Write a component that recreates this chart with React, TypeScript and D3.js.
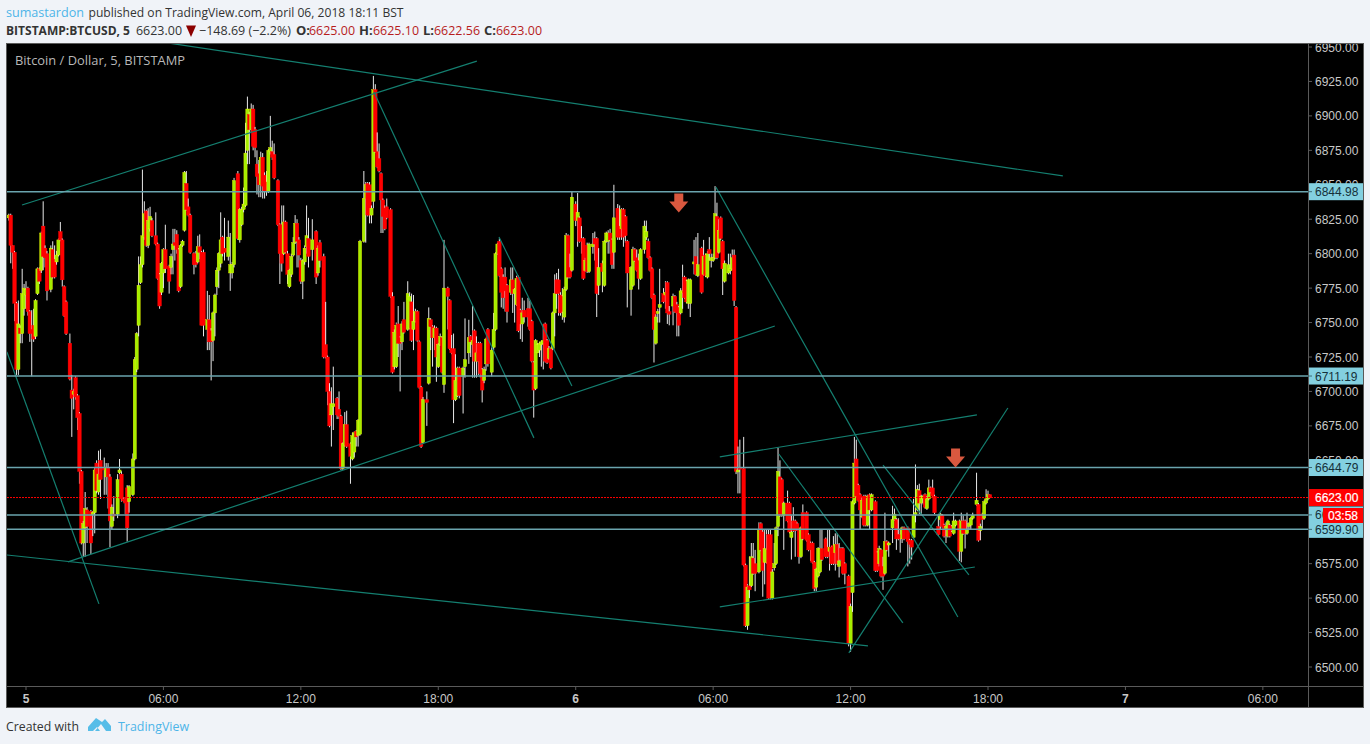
import React from "react";
import * as d3 from "d3";

type Bar = [number, number, number, number, number];

// [bar index from Apr 5 00:00 at 5 minutes, open, high, low, close]
const candlesNight: Bar[] = [
[-9,6826,6829,6824,6828],[-8,6828,6829,6793,6806],[-7,6806,6806,6789,6801],[-6,6801,6802,6751,6764],[-5,6764,6765,6712,6716],[-4,6716,6766,6712,6749],[-3,6746,6748,6735,6742],[-2,6742,6789,6735,6771],[-1,6760,6778,6755,6775],[0,6770,6780,6760,6774],[1,6775,6776,6755,6758],[2,6758,6759,6736,6742],[3,6745,6759,6711,6742],[4,6748,6760,6736,6738],[5,6740,6767,6738,6766],[6,6771,6790,6770,6789],[7,6789,6790,6778,6780],[8,6788,6816,6786,6815],[9,6820,6838,6788,6798],[10,6804,6806,6790,6797],[11,6800,6802,6766,6773],[13,6774,6806,6772,6804],[14,6803,6809,6782,6783],[15,6796,6806,6782,6783],[16,6794,6802,6792,6799],[17,6799,6811,6798,6810],[18,6816,6823,6809,6810],[19,6810,6811,6776,6781],[20,6776,6777,6754,6755],[21,6765,6766,6741,6742],[23,6735,6742,6708,6709],[24,6701,6712,6667,6695],[25,6698,6702,6687,6700],[26,6710,6711,6694,6696],[27,6697,6698,6672,6681],[28,6684,6685,6633,6642],[29,6642,6643,6589,6590],[30,6590,6606,6580,6604],[31,6601,6627,6580,6615],[32,6614,6616,6590,6602],[34,6613,6614,6582,6590],[35,6611,6613,6595,6612],[36,6612,6645,6597,6643],[37,6648,6650,6626,6628],[38,6627,6657,6625,6640],[39,6650,6658,6622,6636],[41,6645,6652,6625,6643],[42,6638,6648,6625,6645],[43,6645,6648,6615,6638],[44,6638,6640,6587,6606],[45,6602,6618,6600,6616],[46,6611,6624,6606,6610],[48,6611,6640,6608,6636],[49,6641,6651,6640,6643],[50,6640,6642,6620,6622],[51,6622,6623,6620,6621],[52,6622,6623,6611,6619],[53,6630,6632,6591,6601],[54,6620,6632,6612,6631],[56,6625,6655,6624,6651],[57,6651,6725,6650,6723],[58,6716,6743,6714,6742],[59,6748,6798,6740,6777],[60,6779,6798,6778,6792],[61,6792,6861,6790,6813],[62,6812,6838,6810,6829],[63,6831,6832,6805,6806],[64,6806,6833,6804,6824],[65,6818,6834,6816,6827],[66,6824,6826,6812,6813],[68,6813,6830,6806,6807],[69,6807,6808,6781,6782],[70,6785,6786,6760,6762],[71,6772,6794,6770,6793],[72,6786,6804,6775,6803],[73,6803,6821,6786,6789],[75,6791,6792,6771,6780],[76,6790,6800,6785,6798],[77,6803,6818,6785,6807],[78,6808,6818,6795,6806],[79,6814,6817,6800,6803],[80,6803,6804,6772,6773],[81,6776,6807,6775,6806],[82,6806,6810,6805,6809],[83,6817,6860,6816,6859],[84,6851,6860,6831,6832],[85,6834,6840,6827,6828],[86,6828,6829,6800,6801],[88,6800,6801,6785,6792],[89,6800,6802,6790,6792],[90,6794,6813,6793,6805],[91,6805,6814,6796,6801],[92,6801,6802,6748,6748],[93,6801,6803,6740,6748],[95,6745,6773,6730,6752],[96,6752,6770,6730,6736],[97,6744,6746,6708,6736],[98,6737,6758,6722,6757],[99,6757,6771,6740,6770],[100,6776,6790,6770,6788],[101,6788,6801,6775,6800],[102,6793,6830,6790,6810],[103,6812,6813,6798,6800],[104,6804,6826,6795,6801],[106,6798,6824,6795,6812],[107,6786,6815,6773,6792],[108,6786,6794,6782,6792],[109,6792,6855,6790,6853],[111,6858,6860,6810,6811],
];

const candlesMorning: Bar[] = [
[112,6810,6833,6808,6832],[113,6821,6834,6820,6832],[114,6832,6848,6830,6836],[115,6835,6895,6834,6873],[116,6875,6914,6865,6905],[117,6901,6903,6865,6890],[118,6890,6909,6888,6905],[119,6905,6908,6875,6878],[120,6890,6892,6870,6877],[121,6865,6875,6843,6856],[122,6858,6868,6841,6850],[123,6850,6874,6841,6870],[124,6870,6873,6840,6849],[125,6857,6859,6840,6845],[126,6852,6860,6842,6845],[127,6845,6876,6844,6875],[128,6874,6900,6872,6877],[129,6874,6882,6868,6870],[130,6872,6880,6854,6855],[132,6853,6854,6820,6821],[133,6821,6822,6778,6800],[134,6821,6835,6787,6793],[135,6800,6835,6799,6823],[136,6823,6824,6800,6801],[137,6800,6802,6778,6785],[138,6776,6789,6775,6788],[139,6785,6800,6783,6798],[140,6799,6812,6798,6808],[141,6808,6828,6807,6822],[142,6822,6825,6790,6809],[143,6810,6812,6790,6799],[144,6795,6797,6778,6780],[145,6780,6796,6767,6795],[146,6794,6806,6792,6804],[147,6805,6835,6800,6813],[148,6811,6826,6790,6798],[150,6803,6825,6795,6810],[152,6816,6817,6778,6783],[153,6786,6806,6784,6804],[154,6808,6810,6790,6795],[156,6798,6800,6724,6725],[157,6734,6765,6724,6725],[158,6725,6726,6690,6700],[159,6700,6706,6674,6675],[160,6683,6703,6660,6691],[161,6689,6718,6672,6691],[163,6695,6696,6680,6683],[164,6687,6700,6680,6682],[165,6682,6683,6643,6644],[166,6644,6663,6643,6662],[167,6661,6685,6660,6676],[168,6676,6686,6659,6660],[170,6662,6663,6633,6653],[171,6651,6670,6650,6668],[172,6656,6671,6652,6670],[173,6671,6672,6660,6667],[174,6668,6680,6660,6679],[175,6669,6810,6668,6809],[177,6809,6860,6808,6840],[178,6840,6852,6808,6850],[179,6851,6852,6827,6828],[180,6850,6852,6822,6828],[181,6828,6835,6822,6833],[182,6838,6929,6833,6919],[183,6919,6923,6873,6874],[184,6874,6888,6862,6863],[185,6869,6880,6859,6860],[186,6858,6859,6815,6839],[187,6839,6840,6815,6827],[188,6833,6835,6817,6818],[189,6834,6840,6825,6826],
];

const candlesAfternoon: Bar[] = [
[191,6832,6833,6768,6769],[192,6769,6772,6713,6714],[193,6718,6745,6716,6743],[194,6718,6750,6717,6748],[195,6749,6762,6725,6735],[196,6739,6740,6700,6735],[197,6736,6751,6730,6749],[198,6752,6765,6742,6743],[200,6745,6780,6744,6771],[201,6746,6772,6745,6769],[202,6765,6771,6736,6737],[203,6745,6770,6730,6751],[204,6751,6760,6750,6758],[205,6758,6759,6736,6737],[206,6736,6737,6702,6703],[207,6703,6704,6659,6660],[208,6663,6696,6662,6694],[210,6694,6700,6675,6692],[211,6706,6761,6705,6753],[212,6752,6753,6730,6747],[213,6747,6748,6718,6739],[214,6739,6748,6730,6746],[215,6746,6747,6707,6725],[216,6718,6735,6717,6734],[217,6734,6742,6733,6740],[218,6739,6740,6713,6714],[219,6705,6810,6699,6775],[221,6775,6776,6745,6769],[222,6766,6767,6730,6731],[223,6731,6741,6727,6728],[224,6731,6742,6677,6694],[225,6694,6727,6693,6708],[226,6697,6718,6696,6717],[227,6717,6718,6695,6697],[229,6711,6718,6684,6717],[230,6718,6753,6710,6723],[232,6728,6752,6720,6739],[233,6740,6741,6725,6736],[234,6734,6762,6710,6737],[235,6744,6745,6710,6722],[236,6722,6740,6710,6728],[237,6735,6736,6712,6722],
[238,6735,6736,6710,6713],[239,6716,6717,6692,6701],[240,6708,6718,6706,6716],[241,6720,6739,6715,6738],[242,6745,6746,6718,6720],[244,6714,6732,6711,6730],[245,6732,6757,6730,6745],[246,6745,6801,6744,6800],[247,6800,6808,6799,6807],[248,6809,6811,6783,6784],[249,6789,6790,6761,6772],[250,6783,6785,6760,6768],[251,6783,6790,6758,6773],[252,6777,6778,6750,6758],[254,6772,6790,6770,6781],[255,6781,6790,6757,6771],[256,6771,6775,6750,6774],[257,6763,6784,6762,6782],[258,6783,6784,6743,6744],[259,6759,6760,6738,6749],[260,6749,6768,6736,6757],[261,6759,6766,6750,6754],[263,6760,6768,6747,6754],[264,6760,6766,6744,6745],[265,6751,6752,6721,6722],[266,6721,6722,6681,6701],[267,6702,6738,6701,6737],[268,6728,6735,6728,6734],[269,6730,6736,6725,6735],[270,6734,6737,6718,6736],[271,6735,6749,6716,6737],[272,6749,6750,6721,6722],[273,6737,6738,6720,6721],[274,6724,6733,6723,6731],[275,6731,6732,6716,6717],[276,6731,6758,6730,6757],[277,6757,6785,6740,6771],[278,6781,6786,6760,6771],[279,6781,6789,6755,6771],[280,6770,6772,6755,6757],[281,6769,6775,6752,6758],[282,6754,6776,6750,6774],[283,6774,6815,6773,6813],[284,6813,6814,6782,6783],[285,6790,6800,6782,6783],[286,6788,6845,6787,6841],
];

const candlesDayTwo: Bar[] = [
[288,6836,6838,6820,6824],[289,6824,6844,6805,6830],[290,6826,6827,6808,6809],[291,6811,6820,6800,6809],[292,6811,6812,6781,6782],[293,6788,6797,6787,6795],[294,6806,6808,6786,6787],[295,6787,6808,6786,6807],[297,6805,6815,6800,6807],[298,6811,6816,6795,6807],[299,6811,6812,6754,6771],[300,6777,6804,6770,6790],[302,6793,6795,6772,6787],[303,6777,6810,6776,6809],[304,6809,6816,6808,6815],[305,6809,6817,6800,6815],[306,6815,6818,6800,6810],[307,6810,6811,6789,6792],[308,6801,6850,6789,6826],[310,6833,6836,6810,6812],[311,6820,6835,6810,6812],[312,6818,6833,6810,6832],[313,6832,6833,6805,6812],[314,6827,6828,6808,6813],[315,6809,6810,6761,6786],[317,6774,6791,6755,6790],[318,6777,6805,6776,6803],[319,6803,6804,6794,6795],[320,6797,6803,6787,6788],[321,6795,6800,6774,6782],[322,6782,6804,6781,6803],[324,6803,6824,6800,6820],[325,6812,6824,6810,6816],[326,6809,6811,6796,6797],[327,6797,6798,6787,6788],[328,6789,6790,6767,6768],[329,6770,6771,6721,6745],[330,6735,6756,6734,6754],[331,6757,6760,6750,6758],[332,6761,6789,6750,6763],[334,6771,6775,6764,6765],[335,6770,6780,6760,6772],[336,6779,6780,6749,6757],[337,6758,6762,6748,6756],[339,6762,6771,6748,6769],[340,6769,6770,6757,6758],[341,6763,6765,6740,6757],[342,6761,6762,6740,6748],[343,6757,6775,6756,6773],[344,6772,6792,6760,6773],[345,6783,6784,6767,6768],[346,6780,6781,6764,6765],[347,6764,6782,6760,6781],[348,6764,6782,6754,6781],[350,6793,6810,6785,6794],[351,6798,6812,6784,6785],[352,6784,6815,6783,6792],[354,6804,6805,6771,6772],[355,6785,6810,6784,6798],[356,6799,6800,6783,6784],[357,6783,6802,6782,6800],[358,6803,6812,6795,6800],[359,6795,6800,6790,6797],[360,6795,6800,6794,6797],[361,6797,6849,6796,6829],[362,6827,6837,6796,6797],[363,6801,6825,6800,6817],[364,6826,6827,6810,6811],[365,6809,6810,6770,6789],[366,6780,6795,6779,6793],[368,6786,6800,6785,6792],[369,6788,6800,6785,6789],[370,6789,6803,6788,6797],[371,6799,6803,6762,6766],[372,6761,6762,6640,6642],
];

const candlesClose: Bar[] = [
[373,6642,6660,6626,6643],[374,6645,6665,6626,6644],[376,6644,6667,6573,6574],[377,6574,6575,6529,6530],[378,6530,6560,6527,6558],[379,6559,6580,6550,6556],[380,6559,6590,6558,6580],[381,6579,6590,6567,6568],[382,6575,6585,6555,6568],[384,6569,6605,6568,6599],[385,6604,6605,6584,6585],[386,6598,6600,6551,6570],[387,6576,6600,6560,6586],[388,6576,6600,6575,6585],[389,6596,6600,6549,6550],[390,6596,6600,6549,6550],[391,6550,6571,6549,6569],[392,6572,6590,6570,6575],[393,6575,6602,6574,6601],[394,6602,6659,6595,6642],[395,6638,6650,6609,6610],[396,6636,6637,6609,6610],[397,6610,6620,6585,6619],[399,6619,6628,6605,6606],[400,6619,6620,6597,6598],[401,6594,6610,6578,6598],[402,6606,6616,6598,6599],[403,6606,6607,6580,6599],[404,6604,6605,6599,6600],[405,6599,6600,6575,6580],[406,6580,6602,6579,6601],[407,6612,6618,6592,6593],[409,6612,6613,6591,6592],[410,6596,6597,6584,6585],[411,6590,6591,6577,6585],[412,6590,6591,6575,6576],[413,6576,6577,6555,6557],[414,6558,6572,6555,6571],[415,6566,6587,6565,6586],[416,6569,6600,6568,6586],[417,6586,6600,6577,6578],[419,6593,6594,6579,6580],[420,6587,6600,6579,6580],[421,6584,6600,6570,6587],[422,6587,6588,6574,6575],[423,6588,6595,6574,6575],[424,6583,6597,6570,6589],[425,6589,6597,6574,6575],[426,6573,6590,6565,6577],[427,6586,6587,6577,6578],[428,6586,6587,6567,6568],[429,6575,6576,6560,6568],[431,6566,6567,6515,6517],[432,6517,6546,6511,6544],[433,6554,6621,6540,6620],[434,6619,6667,6618,6648],[435,6651,6665,6623,6624],[436,6632,6633,6620,6621],[437,6625,6626,6600,6614],[438,6609,6623,6608,6621],[439,6624,6625,6602,6603],[440,6624,6625,6602,6603],[441,6603,6625,6602,6624],[442,6625,6626,6600,6614],[443,6614,6626,6613,6625],[445,6620,6621,6569,6570],[446,6583,6584,6569,6570],[447,6575,6588,6573,6586],[448,6585,6586,6565,6566],[449,6573,6580,6556,6566],[450,6568,6612,6567,6591],[451,6591,6592,6584,6585],[452,6589,6591,6580,6590],[454,6601,6617,6590,6607],[455,6607,6615,6606,6611],[456,6607,6608,6585,6593],[457,6596,6608,6592,6593],[458,6596,6600,6583,6593],[459,6593,6602,6590,6601],[460,6601,6602,6592,6593],[462,6601,6602,6573,6591],[463,6592,6593,6575,6589],[464,6592,6593,6578,6587],[465,6594,6622,6593,6610],[466,6611,6647,6605,6612],[467,6614,6632,6613,6629],[468,6628,6633,6611,6619],[469,6619,6625,6610,6624],[470,6622,6625,6618,6624],[471,6625,6626,6615,6616],[472,6615,6624,6614,6622],[473,6622,6636,6621,6630],[474,6630,6631,6626,6627],[475,6630,6636,6623,6624],[476,6624,6625,6611,6612],[478,6602,6611,6595,6596],[479,6607,6612,6600,6611],[480,6610,6611,6601,6602],[481,6603,6604,6594,6595],[482,6601,6605,6590,6602],[483,6595,6607,6594,6606],[484,6603,6604,6594,6595],[485,6602,6603,6598,6599],[486,6597,6612,6596,6606],[487,6603,6607,6602,6606],[489,6606,6607,6577,6584],[490,6584,6612,6576,6606],[491,6606,6610,6596,6597],[492,6606,6607,6586,6597],[493,6597,6612,6596,6600],[494,6602,6605,6600,6604],[495,6603,6609,6600,6608],[496,6608,6612,6607,6610],[498,6618,6641,6617,6621],[499,6618,6619,6591,6592],[500,6599,6604,6592,6602],[501,6611,6612,6600,6607],[502,6608,6621,6607,6620],[503,6619,6629,6618,6622],[504,6622,6628,6621,6625],[505,6625,6625.1,6622.56,6623],
];

// [bar, price, bar, price]
const trendLines: [number, number, number, number][] = [
[74.4,6952.9,543.2,6856.4],[-2.1,6835.3,236.2,6939.8],[182.3,6917.3,266.1,6666.3],[247.8,6812.1,286,6704],[-10,6728.7,38.2,6545.8],[22,6576.3,392.3,6747.5],[-10,6581.3,441.1,6515.3],[361.4,6848.4,488.2,6536.3],[449,6646.6,494,6566.8],[394.4,6654.6,459.4,6532],[431.1,6510.2,514.4,6688],[363.5,6652.5,498.2,6683],[363.5,6543.6,497.1,6572.6],
];

const levels = [6844.98, 6711.19, 6644.79, 6610.41, 6599.9];
const lastPrice = 6623;
const arrows: [number, number][] = [[342, 6836.8], [487, 6651.7]];
const priceTicks = [6500,6525,6550,6575,6600,6625,6650,6675,6700,6725,6750,6775,6800,6825,6850,6875,6900,6925,6950];
const timeBars = [0, 72, 144, 216, 288, 360, 432, 504, 576, 648];
const timeLabels = ["5", "06:00", "12:00", "18:00", "6", "06:00", "12:00", "18:00", "7", "06:00"];
const ohlc: [string, number, string, number][] = [["O:", 296, "6625.00", 309], ["H:", 359, "6625.10", 373], ["L:", 423, "6622.56", 434], ["C:", 484, "6623.00", 496]];

const L = 7, R = 1308, T = 44, B = 686;
const x = d3.scaleLinear().domain([0, 504]).range([26, 988]);
const y = d3.scaleLinear().domain([6500, 6950]).range([667, 47]);
const candles = [...candlesNight, ...candlesMorning, ...candlesAfternoon, ...candlesDayTwo, ...candlesClose];

const sans = "'Liberation Sans', Arial, sans-serif";
const ui = "'Open Sans', sans-serif";
const blue = "#4db5e8";

export default function App() {
  return (
    <svg width={1370} height={744} style={{ position: "absolute", left: 0, top: 0, background: "#f0f3f8" }}>
      <rect x={6.5} y={43.5} width={1357} height={664} fill="#000" stroke="#5a5a5a" />
      <g fontFamily={ui} fontSize={13} fill="#333">
        <text x={6} y={17} fill={blue} textLength={78} lengthAdjust="spacingAndGlyphs">sumastardon</text>
        <text x={88.5} y={17} textLength={315} lengthAdjust="spacingAndGlyphs">published on TradingView.com, April 06, 2018 18:11 BST</text>
        <text x={6} y={35} fontWeight={700} textLength={124} lengthAdjust="spacingAndGlyphs">BITSTAMP:BTCUSD, 5</text>
        <text x={136} y={35} textLength={46} lengthAdjust="spacingAndGlyphs">6623.00</text>
        <path d="M186,25.5 L196,25.5 L191,37 Z" fill="#8b0000" />
        <text x={199} y={35} textLength={92} lengthAdjust="spacingAndGlyphs">−148.69 (−2.2%)</text>
        {ohlc.map(([k, kx, v, vx]) => (
          <g key={k}>
            <text x={kx} y={35} fontWeight={700}>{k}</text>
            <text x={vx} y={35} fill="#b71c1c" textLength={46} lengthAdjust="spacingAndGlyphs">{v}</text>
          </g>
        ))}
        <text x={6} y={731} textLength={73} lengthAdjust="spacingAndGlyphs">Created with</text>
        <text x={118} y={731} fill={blue} textLength={71} lengthAdjust="spacingAndGlyphs">TradingView</text>
        <path d="M88,731 L88,727 L96,718 L102,722 L105,719 L111,726 L111,731 L106,731 L101,724 L95,731 Z M93,731 L97,727 L100,731 Z" fill="#56bde8" fillRule="evenodd" />
      </g>
      <defs>
        <clipPath id="plot"><rect x={L} y={T} width={R - L} height={B - T} /></clipPath>
      </defs>
      <g clipPath="url(#plot)">
        {candles.map(([b, o, h, l, c]) => {
          const up = c >= o;
          const top = y(Math.max(o, c));
          const bot = y(Math.min(o, c));
          return (
            <g key={b}>
              <line x1={x(b)} x2={x(b)} y1={y(h)} y2={y(l)} stroke="#e8e8e8" strokeWidth={1} />
              <rect x={x(b) - (up ? 1.6 : 1.8)} y={top} width={up ? 3.2 : 3.6} height={Math.max(bot - top, 2)} fill={up ? "#a4ee00" : "#ff0000"} stroke={up ? "#f6f600" : "#ff0000"} strokeWidth={0.4} />
            </g>
          );
        })}
        {trendLines.map(([b1, p1, b2, p2], i) => (
          <line key={i} x1={x(b1)} y1={y(p1)} x2={x(b2)} y2={y(p2)} stroke="#147f70" strokeWidth={1.2} />
        ))}
        {levels.map((p) => (
          <line key={p} x1={L} x2={R} y1={y(p)} y2={y(p)} stroke="#6aa4ae" strokeWidth={1.5} />
        ))}
        <line x1={L} x2={R} y1={y(lastPrice)} y2={y(lastPrice)} stroke="#ff0000" strokeDasharray="2 1" />
        {arrows.map(([b, p]) => (
          <path key={b} transform={`translate(${x(b)},${y(p)})`} d="M-4.5,-9.5 L4.5,-9.5 L4.5,-1.5 L9.5,-1.5 L0,9.5 L-9.5,-1.5 L-4.5,-1.5 Z" fill="#d9583f" />
        ))}
      </g>
      <text x={15} y={65} fontFamily={ui} fontSize={13} fill="#b8b8b8" textLength={170} lengthAdjust="spacingAndGlyphs">Bitcoin / Dollar, 5, BITSTAMP</text>
      <line x1={R + 0.5} x2={R + 0.5} y1={44} y2={707} stroke="#5a5a5a" />
      <line x1={7} x2={1363} y1={B + 0.5} y2={B + 0.5} stroke="#5a5a5a" />
      <clipPath id="axisY"><rect x={R + 1} y={44} width={55} height={B - 44} /></clipPath>
      <g clipPath="url(#axisY)" fontFamily={sans} fontSize={12} fill="#c8c8c8">
        {priceTicks.map((p) => (
          <g key={p}>
            <line x1={R} x2={R + 4} y1={y(p)} y2={y(p)} stroke="#5a5a5a" />
            <text x={R + 7} y={y(p) + 4.5}>{p.toFixed(2)}</text>
          </g>
        ))}
      </g>
      <g fontFamily={sans} fontSize={12} fill="#c8c8c8" textAnchor="middle">
        {timeBars.map((b, i) => (
          <g key={b}>
            <line x1={x(b)} x2={x(b)} y1={B} y2={B + 4} stroke="#5a5a5a" />
            <text x={x(b)} y={703} fontWeight={timeLabels[i].length === 1 ? 700 : 400}>{timeLabels[i]}</text>
          </g>
        ))}
      </g>
      <g fontFamily={sans} fontSize={12}>
        {levels.map((p) => (
          <g key={p}>
            <rect x={R + 1} y={y(p) - 8.5} width={54} height={17} fill="#83d0e0" />
            <line x1={R} x2={R + 4} y1={y(p)} y2={y(p)} stroke="#3a6a75" />
            <text x={R + 7} y={y(p) + 4.5} fill="#15303a">{p.toFixed(2)}</text>
          </g>
        ))}
        <rect x={R + 1} y={y(lastPrice) - 8.5} width={54} height={17} fill="#ff0000" />
        <text x={R + 7} y={y(lastPrice) + 4.5} fill="#fff" stroke="#fff" strokeWidth={0.2}>{lastPrice.toFixed(2)}</text>
        <rect x={1323} y={508} width={40} height={15} fill="#ff0000" />
        <text x={1343} y={520} fill="#fff" stroke="#fff" strokeWidth={0.2} textAnchor="middle">03:58</text>
      </g>
    </svg>
  );
}
